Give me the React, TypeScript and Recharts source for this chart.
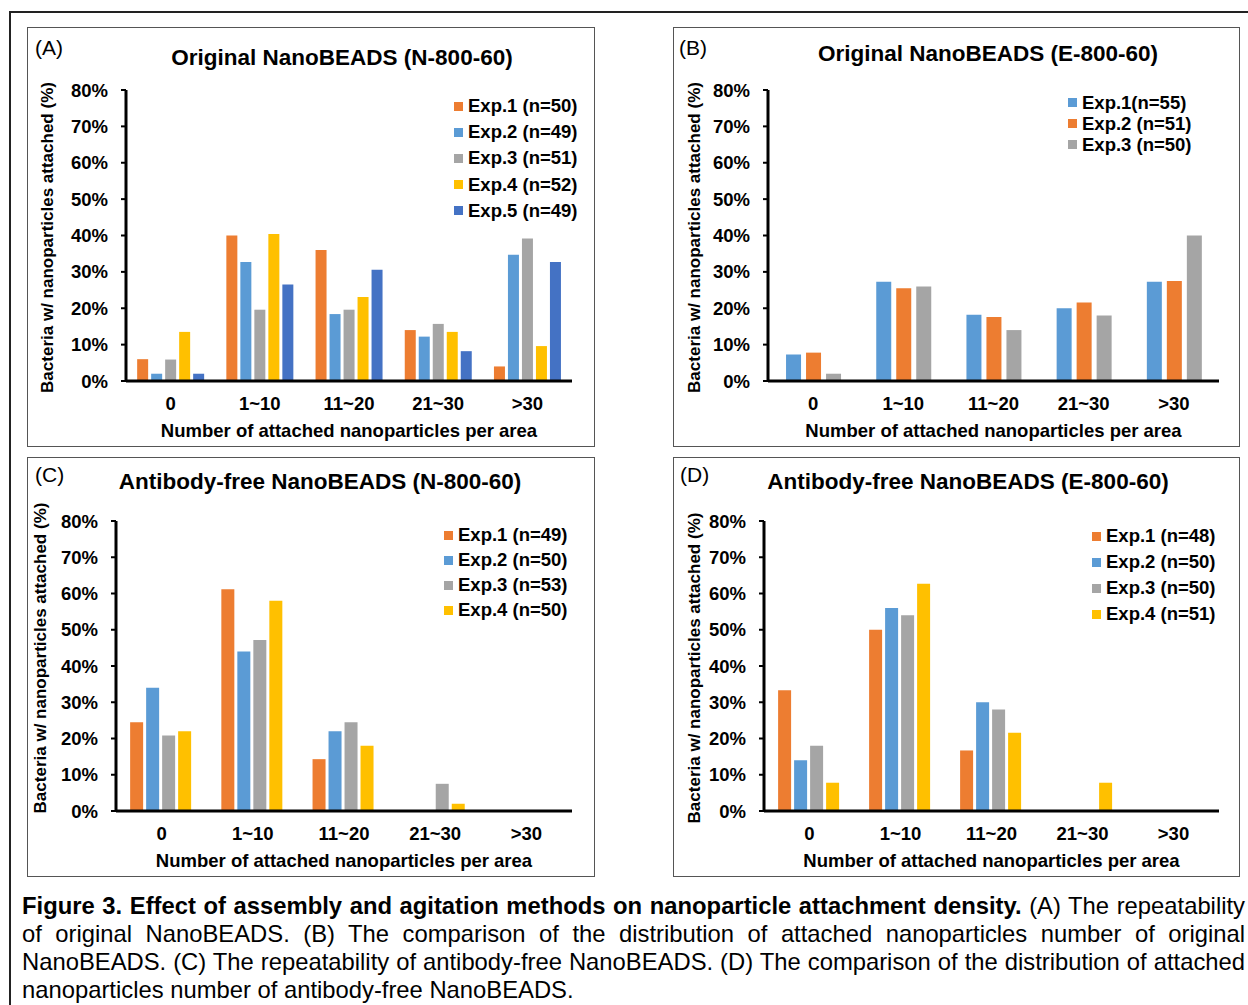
import React from 'react'
import { BarChart, Bar, XAxis, YAxis, Legend } from 'recharts'

const CATEGORIES = ['0', '1~10', '11~20', '21~30', '>30']
const Y_TICKS = [0, 10, 20, 30, 40, 50, 60, 70, 80]
const X_TITLE = 'Number of attached nanoparticles per area'
const Y_TITLE = 'Bacteria w/ nanoparticles attached (%)'

const ORANGE = '#ED7D31'
const LIGHT_BLUE = '#5B9BD5'
const GRAY = '#A5A5A5'
const YELLOW = '#FFC000'
const BLUE = '#4472C4'

// (A) Original NanoBEADS (N-800-60)
const A_NAMES = ['Exp.1 (n=50)', 'Exp.2 (n=49)', 'Exp.3 (n=51)', 'Exp.4 (n=52)', 'Exp.5 (n=49)']
const A_EXP1 = [6.0, 40.0, 36.0, 14.0, 4.0]
const A_EXP2 = [2.0, 32.7, 18.4, 12.2, 34.7]
const A_EXP3 = [5.9, 19.6, 19.6, 15.7, 39.2]
const A_EXP4 = [13.5, 40.4, 23.1, 13.5, 9.6]
const A_EXP5 = [2.0, 26.5, 30.6, 8.2, 32.7]

// (B) Original NanoBEADS (E-800-60)
const B_NAMES = ['Exp.1(n=55)', 'Exp.2 (n=51)', 'Exp.3 (n=50)']
const B_EXP1 = [7.3, 27.3, 18.2, 20.0, 27.3]
const B_EXP2 = [7.8, 25.5, 17.6, 21.6, 27.5]
const B_EXP3 = [2.0, 26.0, 14.0, 18.0, 40.0]

// (C) Antibody-free NanoBEADS (N-800-60)
const C_NAMES = ['Exp.1 (n=49)', 'Exp.2 (n=50)', 'Exp.3 (n=53)', 'Exp.4 (n=50)']
const C_EXP1 = [24.5, 61.2, 14.3, 0, 0]
const C_EXP2 = [34.0, 44.0, 22.0, 0, 0]
const C_EXP3 = [20.8, 47.2, 24.5, 7.5, 0]
const C_EXP4 = [22.0, 58.0, 18.0, 2.0, 0]

// (D) Antibody-free NanoBEADS (E-800-60)
const D_NAMES = ['Exp.1 (n=48)', 'Exp.2 (n=50)', 'Exp.3 (n=50)', 'Exp.4 (n=51)']
const D_EXP1 = [33.3, 50.0, 16.7, 0, 0]
const D_EXP2 = [14.0, 56.0, 30.0, 0, 0]
const D_EXP3 = [18.0, 54.0, 28.0, 0, 0]
const D_EXP4 = [7.8, 62.7, 21.6, 7.8, 0]

const FONT = '"Liberation Sans", Arial, Helvetica, sans-serif'

interface PanelProps {
  x: number
  y: number
  w: number
  h: number
  letter: string
  letterX: number
  letterY: number
  title: string
  titleX: number
  titleY: number
  names: string[]
  colors: string[]
  series: number[][]
  yAxisWidth: number
  plotTop: number
  plotBottom: number
  marginRight: number
  gap: string
  barGap: number
  legendLeft: number
  legendTop: number
  rowH: number
  yLabelOffset: number
  yLabelDy: number
}

const Panel = (p: PanelProps) => {
  const data = CATEGORIES.map((c, i) => {
    const row: any = { cat: c }
    p.series.forEach((s, k) => { row['s' + k] = s[i] })
    return row
  })

  const renderLegend = (props: any) => (
    <div style={{ fontFamily: FONT, fontWeight: 700, fontSize: 18.5, color: '#000' }}>
      {props.payload.map((e: any) => (
        <div key={e.value} style={{ display: 'flex', alignItems: 'center', height: p.rowH, whiteSpace: 'nowrap' }}>
          <span style={{ display: 'inline-block', width: 9, height: 9, background: e.color, marginRight: 5 }} />
          <span>{e.value}</span>
        </div>
      ))}
    </div>
  )

  return (
    <>
      <div style={{ position: 'absolute', left: p.x, top: p.y, width: p.w, height: p.h, border: '1px solid #555', boxSizing: 'border-box' }} />
      <div style={{ position: 'absolute', left: p.letterX, top: p.letterY - 12, lineHeight: '24px', fontSize: 21, fontFamily: FONT, color: '#000' }}>
        {p.letter}
      </div>
      <div style={{ position: 'absolute', left: p.titleX - 300, top: p.titleY - 13, width: 600, textAlign: 'center', lineHeight: '26px', fontSize: 22.5, fontWeight: 700, fontFamily: FONT, color: '#000' }}>
        {p.title}
      </div>
      <div style={{ position: 'absolute', left: p.x, top: p.y }}>
        <BarChart
          width={p.w}
          height={p.h}
          data={data}
          margin={{ top: p.plotTop, right: p.marginRight, bottom: 0, left: 0 }}
          barCategoryGap={p.gap}
          barGap={p.barGap}
        >
          <XAxis
            dataKey="cat"
            height={p.h - p.plotBottom}
            interval={0}
            tickSize={0}
            tickMargin={16}
            tickLine={false}
            axisLine={{ stroke: '#000', strokeWidth: 3 }}
            tick={{ fill: '#000', fontSize: 18.5, fontWeight: 700, fontFamily: FONT }}
            label={{ value: X_TITLE, position: 'insideBottom', offset: 10, fill: '#000', fontSize: 18.5, fontWeight: 700, fontFamily: FONT }}
          />
          <YAxis
            width={p.yAxisWidth}
            domain={[0, 80]}
            ticks={Y_TICKS}
            tickFormatter={(v: number) => `${v}%`}
            tickSize={5}
            tickMargin={13}
            tickLine={{ stroke: '#000', strokeWidth: 2 }}
            axisLine={{ stroke: '#000', strokeWidth: 3 }}
            tick={{ fill: '#000', fontSize: 18.5, fontWeight: 700, fontFamily: FONT }}
            label={{ value: Y_TITLE, angle: -90, position: 'insideLeft', offset: p.yLabelOffset, dy: p.yLabelDy, fill: '#000', fontSize: 17, fontWeight: 700, fontFamily: FONT, style: { textAnchor: 'middle' } }}
          />
          <Legend
            layout="vertical"
            align="center"
            verticalAlign="middle"
            content={renderLegend}
            wrapperStyle={{ left: p.legendLeft, top: p.legendTop, width: 'auto', height: 'auto' }}
          />
          {p.series.map((_, k) => (
            <Bar key={k} dataKey={'s' + k} name={p.names[k]} fill={p.colors[k]} isAnimationActive={false} />
          ))}
        </BarChart>
      </div>
    </>
  )
}

const lineStyle: React.CSSProperties = { textAlign: 'justify', textAlignLast: 'justify' }

export default function App() {
  return (
    <div style={{ position: 'absolute', left: 0, top: 0, width: 1248, height: 1005, overflow: 'hidden', background: '#fff', fontFamily: FONT }}>
      <div style={{ position: 'absolute', left: 9, top: 11, width: 1300, height: 1100, border: '2px solid #222' }} />

      <Panel
        x={27} y={27} w={568} h={420}
        letter="(A)" letterX={35} letterY={48}
        title="Original NanoBEADS (N-800-60)" titleX={342} titleY={58}
        names={A_NAMES} colors={[ORANGE, LIGHT_BLUE, GRAY, YELLOW, BLUE]}
        series={[A_EXP1, A_EXP2, A_EXP3, A_EXP4, A_EXP5]}
        yAxisWidth={99} plotTop={63} plotBottom={354} marginRight={23}
        gap="12.5%" barGap={3}
        legendLeft={427} legendTop={66} rowH={26.2}
        yLabelOffset={20} yLabelDy={2}
      />
      <Panel
        x={673} y={27} w={567} h={420}
        letter="(B)" letterX={679} letterY={48}
        title="Original NanoBEADS (E-800-60)" titleX={988} titleY={54}
        names={B_NAMES} colors={[LIGHT_BLUE, ORANGE, GRAY]}
        series={[B_EXP1, B_EXP2, B_EXP3]}
        yAxisWidth={95} plotTop={63} plotBottom={354} marginRight={21}
        gap="20%" barGap={5}
        legendLeft={395} legendTop={65} rowH={21}
        yLabelOffset={21} yLabelDy={2}
      />
      <Panel
        x={27} y={457} w={568} h={420}
        letter="(C)" letterX={35} letterY={475}
        title="Antibody-free NanoBEADS (N-800-60)" titleX={320} titleY={482}
        names={C_NAMES} colors={[ORANGE, LIGHT_BLUE, GRAY, YELLOW]}
        series={[C_EXP1, C_EXP2, C_EXP3, C_EXP4]}
        yAxisWidth={89} plotTop={64} plotBottom={354} marginRight={23}
        gap="15.5%" barGap={3}
        legendLeft={417} legendTop={66} rowH={24.9}
        yLabelOffset={13} yLabelDy={-8}
      />
      <Panel
        x={673} y={457} w={567} h={420}
        letter="(D)" letterX={680} letterY={475}
        title="Antibody-free NanoBEADS (E-800-60)" titleX={968} titleY={482}
        names={D_NAMES} colors={[ORANGE, LIGHT_BLUE, GRAY, YELLOW]}
        series={[D_EXP1, D_EXP2, D_EXP3, D_EXP4]}
        yAxisWidth={91} plotTop={64} plotBottom={354} marginRight={21}
        gap="15.5%" barGap={3}
        legendLeft={419} legendTop={66} rowH={26}
        yLabelOffset={21} yLabelDy={2}
      />

      <div style={{ position: 'absolute', left: 22, top: 892, width: 1223, fontSize: 23.8, lineHeight: '28px', color: '#000' }}>
        <div style={lineStyle}>
          <b>Figure 3. Effect of assembly and agitation methods on nanoparticle attachment density.</b> (A) The repeatability
        </div>
        <div style={lineStyle}>
          of original NanoBEADS. (B) The comparison of the distribution of attached nanoparticles number of original
        </div>
        <div style={lineStyle}>
          NanoBEADS. (C) The repeatability of antibody-free NanoBEADS. (D) The comparison of the distribution of attached
        </div>
        <div>nanoparticles number of antibody-free NanoBEADS.</div>
      </div>
    </div>
  )
}
